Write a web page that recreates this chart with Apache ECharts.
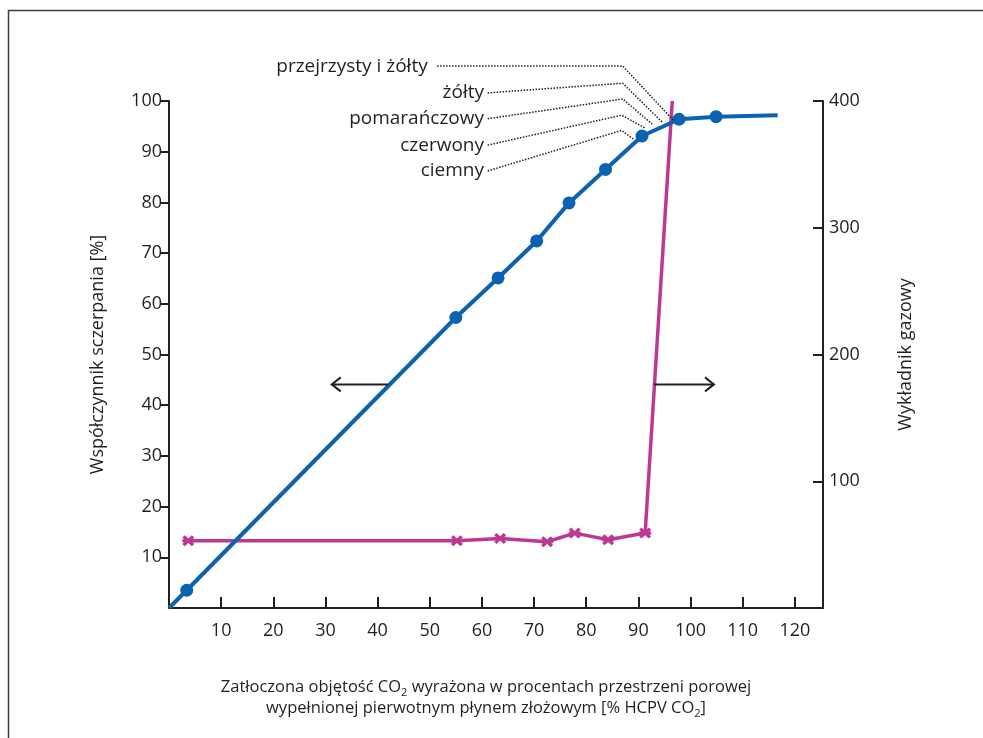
<!DOCTYPE html>
<html><head><meta charset="utf-8">
<script src="https://cdn.jsdelivr.net/npm/echarts@6/dist/echarts.min.js"></script>
<style>html,body{margin:0;padding:0;background:#fff}#c{width:983px;height:738px}</style>
</head><body><div id="c"></div><script>
// ---- data ----
const xTickValues = [10, 20, 30, 40, 50, 60, 70, 80, 90, 100, 110, 120];
const leftTickValues = [10, 20, 30, 40, 50, 60, 70, 80, 90, 100];
const rightTickValues = [100, 200, 300, 400];
// recovery factor (left axis)
const recoveryX = [0, 3.4, 55.0, 63.1, 70.5, 76.7, 83.7, 90.7, 97.8, 104.9, 116.7];
const recoveryY = [0, 3.5, 57.3, 65.1, 72.4, 79.9, 86.5, 93.1, 96.4, 96.9, 97.2];
const recoveryHasMarker = [false, true, true, true, true, true, true, true, true, true, false];
// gas-oil ratio (right axis)
const gorX = [3.7, 55.2, 63.5, 72.5, 77.8, 84.2, 91.3, 96.5];
const gorY = [53.1, 53.1, 54.9, 52.3, 59.1, 53.8, 59.1, 400];
const gorHasMarker = [true, true, true, true, true, true, true, false];
// annotation labels (oil colours) and their leader lines, in data units of x / left axis
const leaderNames = ['przejrzysty i żółty', 'żółty', 'pomarańczowy', 'czerwony', 'ciemny'];
const leaderLabelAt = [[49.6, 106.7], [60.4, 101.6], [60.4, 96.5], [60.4, 91.3], [60.4, 86.2]];
const leaderPaths = [
  [[51.4, 106.9], [87.0, 106.9], [96.6, 96.3]],
  [[61.1, 101.6], [87.0, 103.5], [94.7, 95.7]],
  [[61.1, 96.5], [87.0, 100.4], [92.8, 95.3]],
  [[61.1, 91.3], [86.8, 97.2], [91.2, 94.7]],
  [[61.1, 86.2], [86.8, 94.2], [89.0, 92.5]]
];
const arrowLeft = [[42.0, 44.1], [31.2, 44.1]];   // [tail, tip]
const arrowRight = [[93.0, 44.1], [104.5, 44.1]]; // [tail, tip]

const BLUE = '#0a62b0';
const PINK = '#bb3895';
const INK = '#231f20';
const FONT = 'Open Sans';
const crossPath = 'path://M0,2 L2,0 L5,3 L8,0 L10,2 L7,5 L10,8 L8,10 L5,7 L2,10 L0,8 L3,5 Z M0,3.6 L10,3.6 L10,6.4 L0,6.4 Z';

const recoveryData = recoveryX.map((x, i) => ({ value: [x, recoveryY[i]], symbol: recoveryHasMarker[i] ? 'circle' : 'none' }));
const gorData = gorX.map((x, i) => ({ value: [x, gorY[i]], symbol: gorHasMarker[i] ? crossPath : 'none' }));

const chart = echarts.init(document.getElementById('c'), null, { renderer: 'canvas' });
const axisLine = { show: true, lineStyle: { color: INK, width: 2 } };
chart.setOption({
  animation: false,
  backgroundColor: '#fff',
  textStyle: { fontFamily: FONT },
  grid: { left: 169, right: 160, top: 101, bottom: 130, containLabel: false },
  xAxis: {
    type: 'value', min: 0, max: 125.4, interval: 10,
    axisLine: axisLine,
    axisTick: { show: true, inside: true, length: 11, customValues: xTickValues, lineStyle: { color: INK, width: 2 } },
    axisLabel: { customValues: xTickValues, margin: 14, fontSize: 18, color: INK, fontFamily: FONT },
    splitLine: { show: false }
  },
  yAxis: [
    {
      type: 'value', min: 0, max: 100, interval: 10, position: 'left',
      name: 'Współczynnik sczerpania [%]', nameLocation: 'middle', nameGap: 62, nameRotate: 90,
      nameTextStyle: { fontSize: 18, color: INK, fontFamily: FONT },
      axisLine: axisLine,
      axisTick: { show: true, inside: false, length: 9, customValues: leftTickValues, lineStyle: { color: INK, width: 2 } },
      axisLabel: { customValues: leftTickValues, margin: 7, fontSize: 18, color: INK, fontFamily: FONT },
      splitLine: { show: false }
    },
    {
      type: 'value', min: 0, max: 400, interval: 100, position: 'right',
      name: 'Wykładnik gazowy', nameLocation: 'middle', nameGap: 74, nameRotate: 90,
      nameTextStyle: { fontSize: 18, color: INK, fontFamily: FONT },
      axisLine: axisLine,
      axisTick: { show: true, inside: true, length: 10, customValues: rightTickValues, lineStyle: { color: INK, width: 2 } },
      axisLabel: { customValues: rightTickValues, margin: 6, fontSize: 18, color: INK, fontFamily: FONT },
      splitLine: { show: false }
    }
  ],
  series: [
    {
      type: 'line', name: 'Wykładnik gazowy', yAxisIndex: 1, data: gorData,
      symbolSize: [12, 11], showAllSymbol: true, clip: false,
      lineStyle: { color: PINK, width: 3.5 }, itemStyle: { color: PINK, borderWidth: 0 }, z: 2
    },
    {
      type: 'line', name: 'Współczynnik sczerpania', yAxisIndex: 0, data: recoveryData,
      symbolSize: 13, showAllSymbol: true, clip: false,
      lineStyle: { color: BLUE, width: 4 }, itemStyle: { color: BLUE, borderWidth: 0 }, z: 3
    }
  ]
});

function px(p) { return chart.convertToPixel({ xAxisIndex: 0, yAxisIndex: 0 }, p); }
const graphics = [];
// frame
graphics.push({ type: 'polyline', shape: { points: [[8.5, 738], [8.5, 10.5], [983, 10.5]] }, style: { stroke: '#3c3c3c', lineWidth: 1.5, fill: null }, silent: true });
// leader lines and labels
leaderPaths.forEach((path, i) => {
  graphics.push({ type: 'polyline', shape: { points: path.map(px) }, style: { stroke: INK, lineWidth: 1.5, lineDash: [1.5, 1.5], fill: null }, z: 5 });
  const a = px(leaderLabelAt[i]);
  graphics.push({ type: 'text', x: a[0], y: a[1], style: { text: leaderNames[i], fontFamily: FONT, fontSize: 19, fill: INK, align: 'right', verticalAlign: 'middle' }, z: 5 });
});
// arrows
function arrow(seg) {
  const t = px(seg[0]), h = px(seg[1]);
  const dir = Math.sign(h[0] - t[0]);
  graphics.push({ type: 'polyline', shape: { points: [t, h] }, style: { stroke: INK, lineWidth: 2, fill: null }, z: 4 });
  graphics.push({ type: 'polyline', shape: { points: [[h[0] - dir * 9, h[1] - 7], h, [h[0] - dir * 9, h[1] + 7]] }, style: { stroke: INK, lineWidth: 2, fill: null }, z: 4 });
}
arrow(arrowLeft);
arrow(arrowRight);
// x-axis title (two lines with subscripts)
graphics.push({
  type: 'text', x: 486, y: 698,
  style: {
    text: '{n|Zatłoczona objętość CO}{s|2}{n| wyrażona w procentach przestrzeni porowej}\n{n|wypełnionej pierwotnym płynem złożowym [% HCPV CO}{s|2}{n|]}',
    align: 'center', verticalAlign: 'middle', fill: INK, fontFamily: FONT,
    rich: {
      n: { fontSize: 16.5, lineHeight: 21, fontFamily: FONT, fill: INK },
      s: { fontSize: 11, lineHeight: 21, verticalAlign: 'bottom', fontFamily: FONT, fill: INK }
    }
  }
});
chart.setOption({ graphic: graphics });
</script></body></html>
